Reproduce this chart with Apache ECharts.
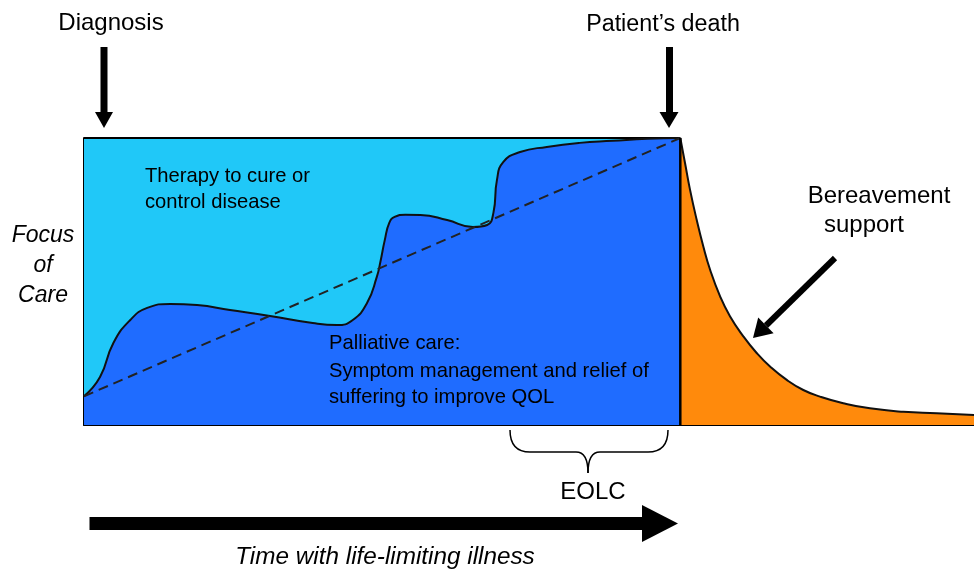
<!DOCTYPE html>
<html>
<head>
<meta charset="utf-8">
<script src="https://cdn.jsdelivr.net/npm/echarts@6/dist/echarts.min.js"></script>
<style>html,body{margin:0;padding:0;background:#fff}#c{width:974px;height:571px}</style>
</head>
<body>
<div id="c"></div>
<script>
// Time axis: 0 = diagnosis, 67 = patient's death, 100 = end of bereavement window
// Focus of care: 0..100 (share of care)
const deathTime = 67;
const palliativeTime = [0, 1.8, 3.3, 5.2, 7.1, 9.7, 12.7, 16.4, 20.9, 25.7, 28.4, 30.2, 31.8, 32.9, 33.3, 33.8, 34.3, 34.9, 36.1, 37.8, 40.8, 43.7, 45.3, 46.0, 46.4, 47.1, 49.0, 52.0, 55.7, 59.4, 63.3, 67];
const palliativeShare = [10, 16.7, 28.6, 36.6, 40.8, 42.2, 41.8, 40.1, 38.0, 35.5, 34.8, 36.6, 42.5, 51.6, 56.8, 64.5, 70.4, 72.5, 73.3, 73.2, 71.4, 69.0, 69.7, 73.9, 85.4, 91.6, 95.1, 96.9, 98.3, 99.0, 99.7, 100];
const trendTime = [0, 67];
const trendShare = [10, 100];
const bereavementTime = [67, 67.53, 68.09, 68.84, 69.58, 70.34, 71.46, 72.58, 74.08, 75.58, 77.08, 78.96, 80.82, 82.7, 85.31, 88.31, 92.06, 95.81, 100];
const bereavementShare = [100, 91.3, 82.0, 71.5, 62.3, 54.2, 44.9, 37.9, 30.9, 25.1, 20.4, 15.7, 12.2, 9.9, 7.6, 5.8, 4.6, 4.1, 3.5];

const zip = (a, b) => a.map((v, i) => [v, b[i]]);
const F = '"Liberation Sans", Arial, sans-serif';
const braceStyle = {stroke: '#000', lineWidth: 1.5, fill: null};

const chart = echarts.init(document.getElementById('c'), null, {renderer: 'canvas'});
chart.setOption({
  animation: false,
  grid: {left: 84, right: 0, top: 138, bottom: 146, containLabel: false},
  xAxis: {type: 'value', min: 0, max: 100, axisLine: {show: true, onZero: false, lineStyle: {color: '#000', width: 2}},
          axisTick: {show: false}, axisLabel: {show: false}, splitLine: {show: false}},
  yAxis: {type: 'value', min: 0, max: 100, axisLine: {show: true, onZero: false, lineStyle: {color: '#000', width: 2}},
          axisTick: {show: false}, axisLabel: {show: false}, splitLine: {show: false}},
  series: [
    {name: 'Therapy', type: 'line', data: [[0, 100], [deathTime, 100]], showSymbol: false, z: 1,
     lineStyle: {color: '#000', width: 2}, areaStyle: {color: '#20c8f8', opacity: 1}},
    {name: 'Palliative', type: 'line', data: zip(palliativeTime, palliativeShare), showSymbol: false, z: 2,
     smooth: 0.5,
     lineStyle: {color: '#111', width: 2}, areaStyle: {color: '#1f6cff', opacity: 1}},
    {name: 'Trend', type: 'line', data: zip(trendTime, trendShare), showSymbol: false, z: 3,
     lineStyle: {color: '#222', width: 2, type: [10, 6]}},
    {name: 'Bereavement', type: 'line', data: zip(bereavementTime, bereavementShare), showSymbol: false, z: 2,
     smooth: 0.5,
     lineStyle: {color: '#111', width: 2}, areaStyle: {color: '#ff8a0c', opacity: 1}},
    {name: 'Death', type: 'line', data: [[deathTime, 0], [deathTime, 100]], showSymbol: false, z: 4,
     lineStyle: {color: '#000', width: 2.5}}
  ],
  graphic: [
    {type: 'text', style: {text: 'Diagnosis', x: 111, y: 23, font: '24px ' + F, fill: '#000', align: 'center', verticalAlign: 'middle'}},
    {type: 'rect', shape: {x: 100.5, y: 47, width: 7, height: 66}, style: {fill: '#000'}},
    {type: 'polygon', shape: {points: [[95, 112], [113, 112], [104, 128]]}, style: {fill: '#000'}},
    {type: 'text', style: {text: 'Patient’s death', x: 663, y: 25, font: '23.3px ' + F, fill: '#000', align: 'center', verticalAlign: 'middle'}},
    {type: 'rect', shape: {x: 666, y: 47, width: 7, height: 66}, style: {fill: '#000'}},
    {type: 'polygon', shape: {points: [[659.5, 112], [678.5, 112], [669, 128]]}, style: {fill: '#000'}},
    {type: 'text', style: {text: 'Focus', x: 43, y: 236, font: 'italic 23px ' + F, fill: '#000', align: 'center', verticalAlign: 'middle'}},
    {type: 'text', style: {text: 'of', x: 43, y: 266, font: 'italic 23px ' + F, fill: '#000', align: 'center', verticalAlign: 'middle'}},
    {type: 'text', style: {text: 'Care', x: 43, y: 296, font: 'italic 23px ' + F, fill: '#000', align: 'center', verticalAlign: 'middle'}},
    {type: 'text', z: 10, style: {text: 'Therapy to cure or', x: 145, y: 176, font: '20.2px ' + F, fill: '#000', align: 'left', verticalAlign: 'middle'}},
    {type: 'text', z: 10, style: {text: 'control disease', x: 145, y: 202, font: '20.2px ' + F, fill: '#000', align: 'left', verticalAlign: 'middle'}},
    {type: 'text', z: 10, style: {text: 'Palliative care:', x: 329, y: 343, font: '20.2px ' + F, fill: '#000', align: 'left', verticalAlign: 'middle'}},
    {type: 'text', z: 10, style: {text: 'Symptom management and relief of', x: 329, y: 371, font: '20.2px ' + F, fill: '#000', align: 'left', verticalAlign: 'middle'}},
    {type: 'text', z: 10, style: {text: 'suffering to improve QOL', x: 329, y: 397, font: '20.2px ' + F, fill: '#000', align: 'left', verticalAlign: 'middle'}},
    {type: 'text', style: {text: 'Bereavement', x: 879, y: 196, font: '24px ' + F, fill: '#000', align: 'center', verticalAlign: 'middle'}},
    {type: 'text', style: {text: 'support', x: 864, y: 225, font: '24px ' + F, fill: '#000', align: 'center', verticalAlign: 'middle'}},
    {type: 'line', z: 10, shape: {x1: 835, y1: 258, x2: 766, y2: 325.5}, style: {stroke: '#000', lineWidth: 6}},
    {type: 'polygon', z: 10, shape: {points: [[753, 338], [773.6, 333.3], [758.2, 317.5]]}, style: {fill: '#000'}},
    {type: 'bezierCurve', shape: {x1: 510, y1: 430, cpx1: 510, cpy1: 452, x2: 530, y2: 452}, style: braceStyle},
    {type: 'line', shape: {x1: 530, y1: 452, x2: 576, y2: 452}, style: braceStyle},
    {type: 'bezierCurve', shape: {x1: 576, y1: 452, cpx1: 588, cpy1: 452, x2: 588, y2: 473}, style: braceStyle},
    {type: 'bezierCurve', shape: {x1: 588, y1: 473, cpx1: 588, cpy1: 452, x2: 600, y2: 452}, style: braceStyle},
    {type: 'line', shape: {x1: 600, y1: 452, x2: 648, y2: 452}, style: braceStyle},
    {type: 'bezierCurve', shape: {x1: 648, y1: 452, cpx1: 668, cpy1: 452, x2: 668, y2: 430}, style: braceStyle},
    {type: 'text', style: {text: 'EOLC', x: 593, y: 492, font: '24px ' + F, fill: '#000', align: 'center', verticalAlign: 'middle'}},
    {type: 'rect', shape: {x: 89.5, y: 517, width: 553, height: 13}, style: {fill: '#000'}},
    {type: 'polygon', shape: {points: [[642, 505], [642, 542], [678, 523.5]]}, style: {fill: '#000'}},
    {type: 'text', style: {text: 'Time with life-limiting illness', x: 385, y: 557, font: 'italic 24.3px ' + F, fill: '#000', align: 'center', verticalAlign: 'middle'}}
  ]
});
</script>
</body>
</html>
